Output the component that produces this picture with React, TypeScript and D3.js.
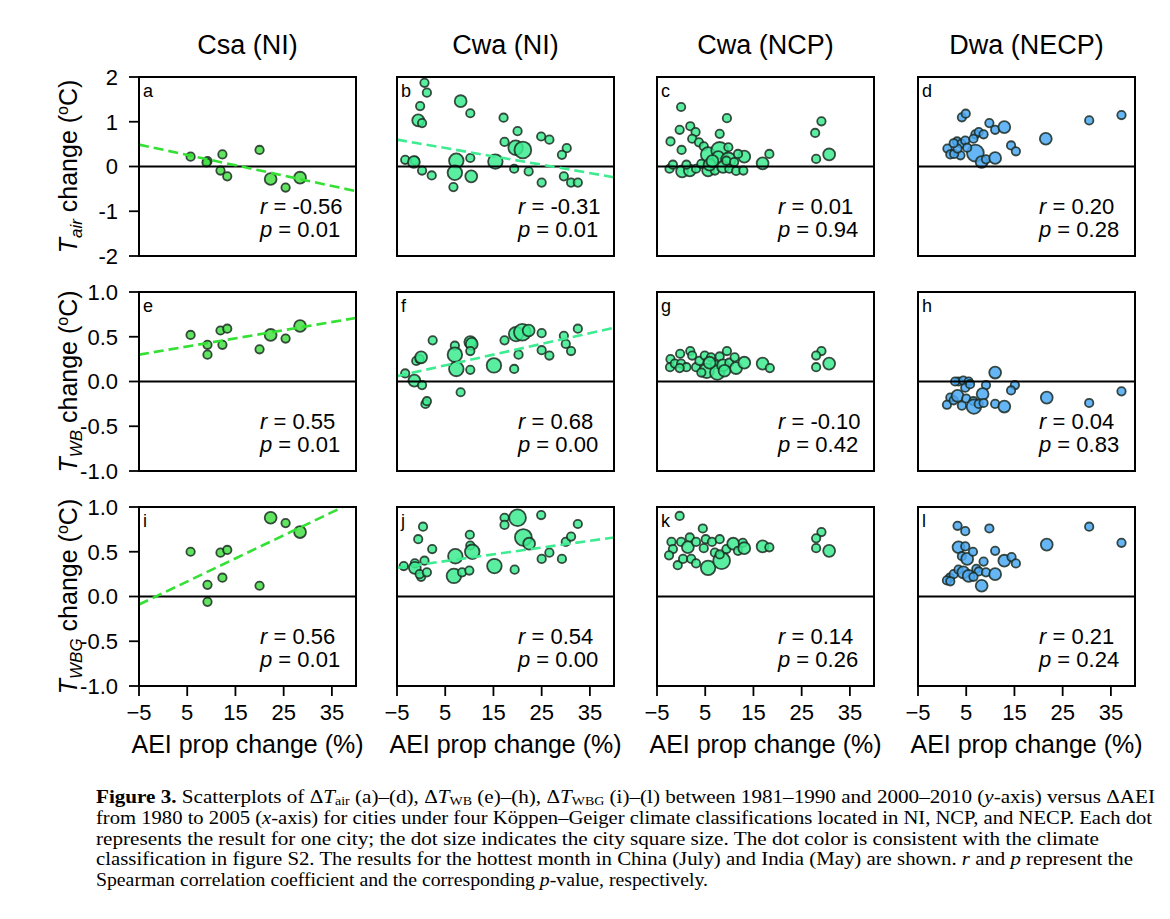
import React from "react";
import * as d3 from "d3";

// column headers and panel letters
const columnTitles = ["Csa (NI)", "Cwa (NI)", "Cwa (NCP)", "Dwa (NECP)"];
const panelLetters = ["a", "b", "c", "d", "e", "f", "g", "h", "i", "j", "k", "l"];
const xTicks = [-5, 5, 15, 25, 35];
const yTicksTair = [2, 1, 0, -1, -2];
const yTicksWb = [1.0, 0.5, 0.0, -0.5, -1.0];

// Spearman r / p per panel
const rValues = ["-0.56", "-0.31", "0.01", "0.20", "0.55", "0.68", "-0.10", "0.04", "0.56", "0.54", "0.14", "0.21"];
const pValues = ["0.01", "0.01", "0.94", "0.28", "0.01", "0.00", "0.42", "0.83", "0.01", "0.00", "0.26", "0.24"];

// fitted line, value at x = -5 and at x = 40 (null = not drawn)
const trendLines: (number[] | null)[] = [
  [0.49, -0.55], [0.60, -0.24], null, null,
  [0.30, 0.71], [0.06, 0.60], null, null,
  [-0.09, 1.07], [0.32, 0.66], null, null,
];

// points: [AEI change %, temperature change, city size class]
const ptsA = [[5.7,0.22,1],[9.2,0.12,1],[9.0,0.09,1],[11.9,-0.09,1],[12.3,0.27,1],[13.3,-0.22,1],[20.0,0.37,1],[22.3,-0.28,2],[25.4,-0.47,1],[28.4,-0.25,2]];
const ptsE = [[5.7,0.52,1],[9.2,0.41,1],[9.2,0.30,1],[11.9,0.57,1],[12.3,0.41,1],[13.3,0.59,1],[20.0,0.36,1],[22.3,0.52,2],[25.4,0.48,1],[28.4,0.62,2]];
const ptsI = [[5.7,0.50,1],[9.2,0.13,1],[9.2,-0.06,1],[11.9,0.49,1],[12.3,0.21,1],[13.3,0.52,1],[20.0,0.12,1],[22.3,0.88,2],[25.4,0.82,1],[28.4,0.72,2]];

const ptsB = [[0.7,1.87,1],[1.2,1.65,1],[-0.2,1.35,1],[-0.6,1.03,2],[0.2,0.97,1],[8.2,1.46,2],[10.2,1.19,1],[17.1,1.09,1],[20.0,0.79,1],[24.9,0.67,1],[26.6,0.60,1],[30.2,0.41,1],[29.2,0.26,1],[17.3,0.55,1],[19.6,0.42,3],[21.1,0.37,4],[15.4,0.11,3],[7.3,0.13,3],[7.0,-0.14,3],[10.4,-0.22,2],[10.2,0.19,1],[6.7,-0.46,1],[2.2,-0.20,1],[0.2,-0.09,1],[-3.3,0.15,1],[-1.3,0.13,1],[-1.5,0.10,2],[19.3,-0.05,1],[22.3,-0.11,1],[25.0,-0.36,1],[29.6,-0.22,1],[31.1,-0.36,1],[32.5,-0.36,1]];
const ptsF = [[-3.3,0.09,1],[-1.4,0.01,2],[0.2,-0.04,1],[-1.0,0.23,1],[-0.3,0.25,1],[0.0,0.27,2],[0.9,-0.25,1],[1.2,-0.22,1],[2.4,0.46,1],[7.0,0.40,1],[7.0,0.30,3],[7.3,0.14,3],[8.2,-0.12,1],[10.2,0.44,2],[10.5,0.42,2],[10.2,0.34,1],[10.2,0.13,1],[15.1,0.18,3],[17.3,0.46,1],[19.3,0.14,1],[20.2,0.30,1],[19.7,0.53,3],[21.0,0.55,4],[22.3,0.57,2],[25.0,0.54,1],[25.0,0.35,1],[26.6,0.29,1],[29.6,0.51,1],[30.0,0.42,1],[31.1,0.34,1],[32.5,0.59,1]];
const ptsJ = [[-3.6,0.34,1],[-1.3,0.37,1],[-1.3,0.32,2],[0.0,0.22,1],[-0.3,0.25,1],[0.4,0.78,1],[-0.6,0.64,1],[0.7,0.40,1],[1.2,0.27,1],[2.3,0.53,1],[6.8,0.23,3],[7.1,0.45,3],[8.5,0.27,1],[10.1,0.69,1],[10.2,0.57,1],[10.6,0.50,3],[10.0,0.29,1],[15.2,0.34,3],[17.3,0.88,1],[17.3,0.80,1],[20.0,0.88,4],[19.4,0.30,1],[21.2,0.66,4],[22.4,0.59,2],[24.9,0.91,1],[25.0,0.42,1],[26.6,0.49,1],[29.2,0.42,1],[30.0,0.61,1],[31.1,0.67,1],[32.5,0.81,1]];

const ptsC = [[0.0,1.33,1],[9.5,1.08,1],[29.1,1.01,1],[27.8,0.75,1],[28.0,0.17,1],[30.7,0.27,2],[-0.3,0.82,1],[1.9,0.90,1],[3.0,0.77,1],[8.0,0.73,1],[-2.2,0.56,1],[2.3,0.62,1],[3.7,0.54,1],[0.1,0.37,1],[4.7,0.45,1],[5.6,0.27,3],[8.0,0.36,4],[7.7,0.21,2],[9.8,0.43,1],[9.8,0.15,3],[13.1,0.22,2],[11.8,0.28,1],[18.3,0.28,1],[16.9,0.07,2],[-2.4,-0.05,1],[-1.7,0.04,1],[0.2,-0.11,2],[1.8,-0.09,2],[3.1,-0.05,1],[5.6,-0.09,2],[7.0,-0.09,1],[8.7,-0.01,2],[10.0,-0.05,1],[11.4,-0.10,1],[12.9,-0.09,1],[1.1,0.04,1],[4.2,0.06,1],[5.9,0.04,2],[9.4,0.13,1],[6.5,0.12,2],[11.0,0.10,1]];
const ptsG = [[-2.2,0.25,1],[-2.3,0.16,1],[-1.3,0.20,1],[-0.2,0.31,1],[0.0,0.20,1],[1.1,0.16,1],[1.9,0.34,1],[2.3,0.29,1],[3.1,0.16,1],[3.8,0.23,1],[4.9,0.29,1],[5.3,0.12,3],[6.2,0.27,1],[7.0,0.19,1],[7.5,0.10,3],[8.0,0.28,1],[8.7,0.18,2],[9.5,0.34,1],[10.0,0.21,1],[11.1,0.27,1],[11.4,0.15,2],[13.1,0.21,2],[-0.3,0.15,1],[4.2,0.10,1],[5.9,0.21,2],[9.0,0.12,2],[16.9,0.20,2],[18.4,0.15,1],[29.1,0.34,1],[28.0,0.29,1],[28.0,0.16,1],[30.7,0.20,2]];
const ptsK = [[-0.3,0.90,1],[4.5,0.76,1],[-2.0,0.61,1],[-1.7,0.53,1],[-2.5,0.46,1],[0.0,0.61,1],[-0.7,0.35,1],[0.4,0.42,1],[1.8,0.66,1],[2.1,0.42,1],[1.4,0.55,2],[3.1,0.61,1],[3.1,0.37,1],[4.7,0.54,1],[5.1,0.64,1],[5.6,0.32,3],[6.4,0.61,1],[7.0,0.49,1],[8.0,0.64,1],[8.4,0.40,4],[9.4,0.53,1],[10.8,0.59,2],[11.8,0.51,1],[12.8,0.60,1],[13.1,0.54,2],[16.9,0.56,2],[18.3,0.55,1],[29.1,0.72,1],[28.0,0.65,1],[28.0,0.54,1],[30.7,0.51,2],[8.0,0.47,1]];

const ptsD = [[4.1,1.10,1],[4.9,1.18,1],[9.8,0.97,1],[11.0,0.82,1],[12.9,0.88,2],[21.5,0.62,2],[14.3,0.47,1],[15.3,0.34,1],[1.1,0.40,1],[1.7,0.27,1],[3.1,0.56,1],[4.0,0.51,1],[4.8,0.58,1],[6.9,0.72,1],[7.6,0.77,1],[8.6,0.72,1],[6.5,0.62,1],[6.9,0.30,4],[3.8,0.25,1],[5.2,0.42,1],[8.2,0.10,2],[9.1,0.16,1],[11.0,0.19,2],[2.5,0.28,1],[3.2,0.40,1],[2.4,0.52,1],[30.5,1.03,1],[37.2,1.15,1]];
const ptsH = [[11.0,0.10,2],[3.4,0.0,1],[4.4,0.01,1],[5.5,0.0,1],[4.8,-0.07,1],[9.1,-0.04,1],[15.1,-0.04,1],[14.3,-0.10,1],[21.7,-0.18,2],[1.7,-0.18,1],[1.0,-0.26,1],[2.4,-0.21,1],[3.2,-0.16,2],[4.1,-0.27,1],[5.0,-0.19,1],[6.5,-0.22,1],[6.6,-0.28,3],[7.6,-0.25,1],[8.4,-0.14,2],[8.6,-0.24,1],[11.0,-0.25,1],[12.9,-0.28,2],[5.8,-0.03,1],[2.7,0.0,1],[30.5,-0.24,1],[37.2,-0.11,1]];
const ptsL = [[3.2,0.79,1],[4.8,0.73,1],[9.8,0.76,1],[21.7,0.58,2],[11.0,0.51,1],[12.9,0.40,2],[14.4,0.44,1],[15.3,0.37,1],[3.4,0.55,2],[4.8,0.56,1],[4.1,0.45,1],[5.2,0.42,2],[6.4,0.50,1],[8.6,0.39,1],[7.1,0.31,1],[7.6,0.28,1],[9.1,0.27,1],[11.0,0.25,2],[8.2,0.12,2],[1.6,0.21,1],[1.0,0.18,1],[2.4,0.25,1],[3.4,0.30,1],[4.4,0.27,2],[5.5,0.23,2],[6.5,0.22,1],[1.7,0.17,1],[30.5,0.78,1],[37.2,0.60,1]];

const panelPoints = [ptsA, ptsB, ptsC, ptsD, ptsE, ptsF, ptsG, ptsH, ptsI, ptsJ, ptsK, ptsL];

const dotColors = ["#45e045", "#3deb91", "#3deb91", "#4ba8f2"];
const trendColors = ["#33e033", "#3deb91", "#3deb91", "#4ba8f2"];

const W = 1170;
const H = 919;
const colLeft = [139, 397, 657, 918];
const rowTop = [77, 292, 507];
const pw = 217;
const ph = 179;
const font = "'Liberation Sans', Arial, sans-serif";
const serif = "'Liberation Serif', 'Times New Roman', serif";

const xScale = d3.scaleLinear().domain([-5, 40]).range([0, pw]);
const rScale = d3.scaleSqrt().domain([0, 1]).range([0, 4.2]);
const fmtMinus = (v: number) => (v < 0 ? "\u2212" + Math.abs(v) : String(v));

function YLabel({ row, cx, cy }: { row: number; cx: number; cy: number }) {
  const sub = ["air", "WB", "WBG"][row];
  return (
    <text
      transform={`translate(${cx},${cy}) rotate(-90)`}
      textAnchor="middle"
      fontFamily={font}
      fontSize={25}
    >
      <tspan fontStyle="italic">T</tspan>
      <tspan fontStyle="italic" fontSize={17} dy={5}>{sub}</tspan>
      <tspan dy={-5}> change (</tspan>
      <tspan fontSize={16} dy={-9}>o</tspan>
      <tspan dy={9}>C)</tspan>
    </text>
  );
}

function Panel({ idx }: { idx: number }) {
  const row = Math.floor(idx / 4);
  const col = idx % 4;
  const x0 = colLeft[col];
  const y0 = rowTop[row];
  const yDomain = row === 0 ? [-2, 2] : [-1, 1];
  const y = d3.scaleLinear().domain(yDomain).range([ph, 0]);
  const yTicks = row === 0 ? yTicksTair : yTicksWb;
  const trend = trendLines[idx];
  const clipId = `clip-${idx}`;
  return (
    <g transform={`translate(${x0},${y0})`}>
      <defs>
        <clipPath id={clipId}>
          <rect x={0} y={0} width={pw} height={ph} />
        </clipPath>
      </defs>
      <g clipPath={`url(#${clipId})`}>
        {panelPoints[idx].map((d, i) => (
          <circle
            key={i}
            cx={xScale(d[0])}
            cy={y(d[1])}
            r={rScale(d[2])}
            fill={dotColors[col]}
            fillOpacity={0.85}
            stroke="#1c2b22"
            strokeOpacity={0.85}
            strokeWidth={1.8}
          />
        ))}
        <line x1={0} x2={pw} y1={y(0)} y2={y(0)} stroke="#000" strokeWidth={2} />
        {trend && (
          <line
            x1={xScale(-5)}
            x2={xScale(40)}
            y1={y(trend[0])}
            y2={y(trend[1])}
            stroke={trendColors[col]}
            strokeWidth={2.6}
            strokeDasharray="10,5"
          />
        )}
      </g>
      <rect x={0} y={0} width={pw} height={ph} fill="none" stroke="#000" strokeWidth={2} />
      <text x={4} y={20} fontFamily={font} fontSize={18}>{panelLetters[idx]}</text>
      <text x={121} y={137} fontFamily={font} fontSize={22}>
        <tspan fontStyle="italic">r</tspan> = {rValues[idx]}
      </text>
      <text x={121} y={160} fontFamily={font} fontSize={22}>
        <tspan fontStyle="italic">p</tspan> = {pValues[idx]}
      </text>
      {col === 0 &&
        yTicks.map((t) => (
          <g key={t} transform={`translate(0,${y(t)})`}>
            <line x1={-10} x2={0} stroke="#000" strokeWidth={1.8} />
            <text x={-21} dy="0.36em" textAnchor="end" fontFamily={font} fontSize={22}>
              {row === 0 ? String(t) : t.toFixed(1)}
            </text>
          </g>
        ))}
      {row === 2 &&
        xTicks.map((t) => (
          <g key={t} transform={`translate(${xScale(t)},${ph})`}>
            <line y1={0} y2={10} stroke="#000" strokeWidth={1.8} />
            <text y={34} textAnchor="middle" fontFamily={font} fontSize={22}>
              {fmtMinus(t)}
            </text>
          </g>
        ))}
      {row === 2 && (
        <text x={pw / 2} y={ph + 67} textAnchor="middle" fontFamily={font} fontSize={25}>
          AEI prop change (%)
        </text>
      )}
    </g>
  );
}

export default function App() {
  const cs = 18.2;
  const sub = 12;
  return (
    <svg
      width={W}
      height={H}
      viewBox={`0 0 ${W} ${H}`}
      style={{ position: "absolute", left: 0, top: 0, display: "block", background: "#fff" }}
    >
      <rect x={0} y={0} width={W} height={H} fill="#fff" />
      {columnTitles.map((t, i) => (
        <text key={t} x={colLeft[i] + pw / 2} y={54} textAnchor="middle" fontFamily={font} fontSize={27}>
          {t}
        </text>
      ))}
      {[0, 1, 2].map((r) => (
        <YLabel key={r} row={r} cx={77} cy={rowTop[r] + ph / 2} />
      ))}
      {panelLetters.map((_, i) => (
        <Panel key={i} idx={i} />
      ))}
      <g fontFamily={serif} fontSize={cs}>
        <text x={96} y={802.5} textLength={1059} lengthAdjust="spacingAndGlyphs">
          <tspan fontWeight="bold">Figure 3.</tspan> Scatterplots of Δ<tspan fontStyle="italic">T</tspan>
          <tspan fontSize={sub} dy={2}>air</tspan>
          <tspan dy={-2}> (a)–(d), Δ</tspan><tspan fontStyle="italic">T</tspan>
          <tspan fontSize={sub} dy={2}>WB</tspan>
          <tspan dy={-2}> (e)–(h), Δ</tspan><tspan fontStyle="italic">T</tspan>
          <tspan fontSize={sub} dy={2}>WBG</tspan>
          <tspan dy={-2}> (i)–(l) between 1981–1990 and 2000–2010 (</tspan><tspan fontStyle="italic">y</tspan>-axis) versus ΔAEI
        </text>
        <text x={96} y={824} textLength={1056} lengthAdjust="spacingAndGlyphs">
          from 1980 to 2005 (<tspan fontStyle="italic">x</tspan>-axis) for cities under four Köppen–Geiger climate classifications located in NI, NCP, and NECP. Each dot
        </text>
        <text x={96} y={844.5} textLength={1003} lengthAdjust="spacingAndGlyphs">
          represents the result for one city; the dot size indicates the city square size. The dot color is consistent with the climate
        </text>
        <text x={96} y={865} textLength={1037} lengthAdjust="spacingAndGlyphs">
          classification in figure S2. The results for the hottest month in China (July) and India (May) are shown. <tspan fontStyle="italic">r</tspan> and <tspan fontStyle="italic">p</tspan> represent the
        </text>
        <text x={96} y={885.5} textLength={612} lengthAdjust="spacingAndGlyphs">
          Spearman correlation coefficient and the corresponding <tspan fontStyle="italic">p</tspan>-value, respectively.
        </text>
      </g>
    </svg>
  );
}
